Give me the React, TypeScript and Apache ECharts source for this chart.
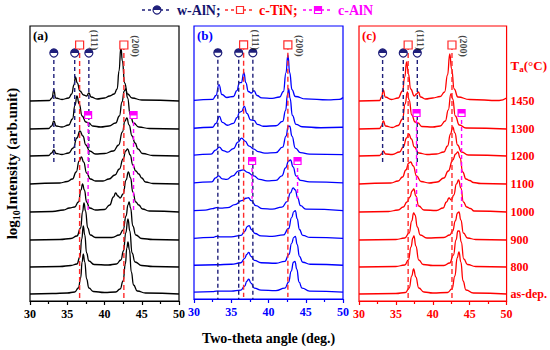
import React, { useEffect, useRef } from "react";
import * as echarts from "echarts";

const FONT = "'Liberation Serif', 'Times New Roman', serif";
const PANEL_COLORS = ["#000000", "#0000ff", "#ff0000"];
const PANEL_TAGS = ["(a)", "(b)", "(c)"];
const TEMPS = ["as-dep.", "800", "900", "1000", "1100", "1200", "1300", "1450"];
// baseline offset of each stacked pattern (px above the x axis)
const BASELINES = [7, 34, 61, 89, 117, 145, 172, 200];
const X_MIN = 30;
const X_MAX = 50;
const X_STEP = 5;
const Y_MAX = 275;

// [2theta, intensity above baseline]
const CURVES_A = [
  [[30,0],[33,0.5],[35,1],[36.0,2],[36.5,6],[36.8,16],[37.0,32],[37.15,40],[37.35,32],[37.6,15],[37.9,6],[38.5,2.5],[40,1.5],[41.5,2],[42.1,5],[42.5,13],[42.8,30],[43.0,46],[43.15,52],[43.35,44],[43.6,22],[43.9,9],[44.4,3],[45.5,1],[50,0]],
  [[30,0],[34,0.5],[35.5,1.5],[36.3,3],[36.7,10],[36.95,28],[37.15,41],[37.35,32],[37.6,14],[37.9,6],[38.6,2.5],[40.5,2],[41.6,3],[42.2,7],[42.55,16],[42.85,34],[43.15,48],[43.4,36],[43.7,14],[44.1,5],[45,1.5],[46.5,0.5],[50,0]],
  [[30,0],[34,0.5],[35.5,1.5],[36.3,4],[36.8,12],[37.05,28],[37.25,37],[37.45,29],[37.75,12],[38.1,5],[38.8,2.5],[41,2.5],[42.0,5],[42.5,10],[42.9,24],[43.15,35],[43.3,38],[43.5,32],[43.8,14],[44.2,5],[45,1.5],[46.5,0.5],[50,0]],
  [[30,0],[33,0.5],[34.5,2],[35.3,4],[36.0,5],[36.5,10],[36.85,22],[37.05,28],[37.3,22],[37.6,10],[38.0,4],[38.8,2],[40,2.5],[40.7,7],[41.2,15],[41.5,19],[41.8,16],[42.1,14],[42.5,18],[42.9,32],[43.2,40],[43.5,34],[43.8,20],[44.2,10],[44.6,7],[45.1,3],[46,1],[50,0]],
  [[30,0],[34,1],[35.0,2.5],[35.7,5],[36.2,12],[36.6,23],[36.9,27],[37.2,22],[37.6,11],[38.1,5],[38.8,3],[39.8,3],[40.6,5],[41.4,9],[42.0,15],[42.5,25],[42.85,33],[43.1,35],[43.45,29],[43.8,19],[44.2,13],[44.6,10],[45.0,6],[45.5,2],[46.5,0.5],[50,0]],
  [[30,0],[32.5,0.5],[32.9,3],[33.2,6],[33.5,2.5],[34.3,1.5],[35.2,3],[35.8,8],[36.3,18],[36.7,25],[37.1,20],[37.5,11],[38.0,5],[38.8,2],[40,2.5],[41.2,5],[41.9,11],[42.4,24],[42.75,35],[43.0,38],[43.3,31],[43.7,20],[44.1,13],[44.5,7],[45.1,2.5],[46.5,0.5],[50,0]],
  [[30,0],[32.5,0.5],[32.9,3],[33.2,8],[33.5,3],[34.3,2],[35.2,4],[35.7,10],[36.05,24],[36.3,33],[36.6,25],[37.0,13],[37.5,7],[37.9,6],[38.4,3],[39.5,2],[40.6,3],[41.5,6],[42.0,13],[42.35,27],[42.65,38],[42.85,40],[43.1,31],[43.45,14],[43.9,6],[44.6,2],[46,0.5],[50,0]],
  [[30,0],[32.6,0.5],[32.95,3],[33.2,11],[33.45,3],[34.3,1.5],[35.2,3],[35.6,7],[35.9,16],[36.1,24],[36.35,18],[36.7,10],[37.2,6],[37.6,5],[37.9,8],[38.2,4],[39.0,2],[40,3],[40.7,5],[41.3,7],[41.7,12],[41.95,30],[42.2,54],[42.4,40],[42.7,18],[43.1,7],[43.7,3],[45,1],[50,0]]
];

const CURVES_B = [
  [[30,0],[32.5,0.5],[33,1],[35,1],[36.3,2],[36.8,6],[37.1,11],[37.35,13],[37.65,9],[38.1,4],[39,2],[41,1.5],[42.2,4],[42.7,10],[43.05,21],[43.35,30],[43.55,31],[43.8,23],[44.1,10],[44.5,4],[45.5,1],[50,0]],
  [[30,0],[33,0.5],[35,1],[36.3,2.5],[36.8,7],[37.1,11],[37.35,13],[37.65,9],[38.1,5],[39,2.5],[41,2],[42.2,4],[42.75,11],[43.1,22],[43.4,28],[43.6,29],[43.85,21],[44.15,9],[44.6,3],[45.6,1],[50,0]],
  [[30,0],[32.5,1],[33.0,2],[33.6,1.5],[35,1.5],[36.3,3],[36.8,7],[37.15,12],[37.4,13],[37.7,9],[38.2,5],[39,2.5],[40.5,2],[42,3.5],[42.7,10],[43.1,21],[43.4,27],[43.6,28],[43.85,20],[44.15,9],[44.6,3],[45.6,1],[50,0]],
  [[30,0],[31.5,0.5],[32.5,2],[33.0,3],[33.6,2.5],[34.5,3],[35.5,6],[36.4,10],[37.0,12.5],[37.3,13],[37.7,10],[38.3,5],[39.2,2],[40.5,1.5],[41.8,3.5],[42.5,9],[42.95,18],[43.3,23],[43.6,21],[43.9,13],[44.3,5],[45,1.5],[50,0]],
  [[30,0],[32.4,1],[32.9,5],[33.3,7],[33.8,4],[34.4,3.5],[35.2,7],[36.0,12],[36.6,13],[37.2,10.5],[38.0,7],[38.8,3.5],[39.8,2],[41,2.5],[41.8,7],[42.3,15],[42.7,22],[42.95,23],[43.3,16],[43.7,7],[44.3,2.5],[45.5,1],[50,0]],
  [[30,0],[32.3,1],[32.9,5],[33.4,8],[33.9,4.5],[34.5,3],[35.3,6.5],[35.9,13],[36.4,17],[36.85,14],[37.4,9],[38.05,6],[38.6,3.5],[39.5,2],[41,2.5],[41.9,8],[42.35,19],[42.65,29],[42.85,29],[43.15,19],[43.6,7],[44.3,2.5],[45.5,1],[50,0.5]],
  [[30,0],[32.5,1],[32.95,5],[33.4,12],[33.8,6],[34.5,3],[35.3,5],[35.8,11],[36.1,16],[36.4,17],[36.75,22],[37.1,15],[37.6,8.5],[38.05,8],[38.5,4],[39.3,2],[41,2.5],[41.9,7],[42.3,18],[42.55,34],[42.7,40],[42.9,30],[43.2,13],[43.7,4],[44.5,1.5],[47,0.5],[50,1]],
  [[30,0],[32.5,1],[32.95,5],[33.35,16],[33.75,6],[34.4,3],[35.3,4],[35.75,10],[36.1,18],[36.35,18],[36.7,28],[36.95,18],[37.3,9],[37.7,7.5],[38.05,10],[38.45,5],[39.1,2.5],[40.5,2],[41.5,3.5],[42.0,9],[42.35,28],[42.6,46],[42.85,28],[43.15,11],[43.6,4],[45,1.5],[48,0.5],[49.5,1],[50,3]]
];

const CURVES_C = [
  [[30,0],[35,0.5],[36.3,1.5],[36.8,6],[37.15,18],[37.4,25],[37.7,17],[38.1,6],[38.8,2],[40,1],[42,1.5],[42.6,5],[43.0,18],[43.3,36],[43.55,42],[43.8,32],[44.1,13],[44.5,4],[45.5,1],[50,0]],
  [[30,0],[35,0.5],[36.2,2],[36.7,7],[37.05,20],[37.3,29],[37.45,31],[37.7,21],[38.1,7],[38.7,2.5],[40,1.5],[41.5,1.5],[42.3,4],[42.8,12],[43.15,27],[43.4,36],[43.6,36],[43.85,25],[44.2,8],[44.7,2.5],[45.8,0.5],[50,0]],
  [[30,0],[35,0.5],[36.2,2],[36.8,7],[37.15,19],[37.4,27],[37.6,25],[37.9,13],[38.3,5],[39.2,2],[41.5,2.5],[42.3,5],[42.7,9],[43.05,19],[43.35,27],[43.55,28],[43.8,20],[44.15,7],[44.7,2],[45.8,0.5],[50,0]],
  [[30,0],[34,0.5],[35.3,2],[36.0,5],[36.5,10],[36.9,15],[37.2,21],[37.43,23],[37.7,16],[38.1,6],[38.8,2],[40.5,1.5],[41.4,4],[41.85,10],[42.2,14],[42.5,12],[42.85,17],[43.2,28],[43.5,32],[43.8,24],[44.15,10],[44.6,5],[45.1,3.5],[45.6,1],[50,0]],
  [[30,0],[34.3,1],[35.3,3],[35.9,7],[36.35,14],[36.75,21],[37.0,22],[37.35,18],[37.8,8],[38.4,2.5],[39.5,1],[40.6,2],[41.5,6],[42.1,13],[42.7,24],[43.1,30],[43.4,32],[43.7,26],[44.05,12],[44.5,5],[45.0,3.5],[45.5,1.5],[46.5,0.5],[50,0]],
  [[30,0],[32.8,0.5],[33.05,2],[33.3,5],[33.6,2],[34.5,1.5],[35.5,4],[36.0,9],[36.45,18],[36.75,22],[37.1,17],[37.5,9],[38.1,3],[39.2,1.5],[40.5,2],[41.5,4],[42.0,10],[42.4,22],[42.7,29],[43.0,23],[43.35,11],[43.9,4],[44.8,1],[50,0]],
  [[30,0],[32.8,0.5],[33.05,3],[33.3,8],[33.6,3],[34.5,1.5],[35.3,3.5],[35.9,10],[36.25,25],[36.55,37],[36.8,29],[37.15,14],[37.6,7],[38.0,6],[38.5,2.5],[40,2],[41,3],[41.7,8],[42.1,19],[42.45,35],[42.7,30],[43.05,13],[43.6,4],[44.5,1],[50,0]],
  [[30,0],[32.8,0.5],[33.05,4],[33.3,11],[33.55,4],[34.4,1.5],[35.3,3],[35.9,10],[36.2,24],[36.45,39],[36.7,27],[37.0,12],[37.5,5],[37.8,7],[38.05,9],[38.35,4],[39,2],[40,3],[41,4.5],[41.6,9],[42.0,26],[42.3,47],[42.55,32],[42.9,12],[43.4,4],[45,1.5],[49,0.5],[50,3]]
];

const CURVES = [CURVES_A, CURVES_B, CURVES_C];

// reference peak positions
const W_ALN = [33.2, 36.0, 37.9];
const C_TIN = [36.66, 42.6];
const C_ALN = [37.8, 43.9];
// vertical extents of the reference lines per panel (same units as baselines)
const W_ALN_TOP = [248, 248, 248];
const W_ALN_BOTTOM = [138, 0, 138];
const C_TIN_TOP = [256, 256, 256];
const C_TIN_BOTTOM = [2, 2, 2];
const C_ALN_TOP = [186, 139, 188];
const C_ALN_BOTTOM = [91, 101, 94];
// Miller index labels
const HKL = ["(111)", "(200)"];
const HKL_X = [[38.7, 44.1], [38.3, 44.2], [38.3, 44.1]];
const HKL_Y = [261, 255];

const NAVY = "#1f1f7a";
const RED = "#ff2a2a";
const MAGENTA = "#ff00ff";

const GRID_LEFT = [30, 194, 359];

function buildOption() {
  const series: any[] = [];
  CURVES.forEach((panel, p) => {
    panel.forEach((pts, i) => {
      series.push({
        type: "line",
        xAxisIndex: p,
        yAxisIndex: p,
        data: pts.map(([x, h]) => [x, h + BASELINES[i]]),
        showSymbol: false,
        smooth: 0.5,
        smoothMonotone: "x",
        lineStyle: { color: PANEL_COLORS[p], width: 1.3 },
        silent: true,
        z: 2,
      });
    });
    const refLine = (x: number, top: number, bottom: number, color: string, dash: number[]) => ({
      type: "line",
      xAxisIndex: p,
      yAxisIndex: p,
      data: [[x, top], [x, bottom]],
      showSymbol: false,
      symbol: "none",
      lineStyle: { color, width: 1.4, type: dash },
      silent: true,
      z: 3,
    });
    W_ALN.forEach((x) => series.push(refLine(x, W_ALN_TOP[p], W_ALN_BOTTOM[p], NAVY, [4, 3])));
    C_TIN.forEach((x) => series.push(refLine(x, C_TIN_TOP[p], C_TIN_BOTTOM[p], RED, [5, 3])));
    C_ALN.forEach((x) => series.push(refLine(x, C_ALN_TOP[p], C_ALN_BOTTOM[p], MAGENTA, [4, 3])));
    // markers
    series.push({
      type: "scatter", xAxisIndex: p, yAxisIndex: p, silent: true, z: 4,
      data: W_ALN.map((x) => [x, W_ALN_TOP[p]]),
      symbol: "circle", symbolSize: 8,
      itemStyle: { color: "#fff", borderColor: NAVY, borderWidth: 1.2, opacity: 1 },
    });
    series.push({
      type: "scatter", xAxisIndex: p, yAxisIndex: p, silent: true, z: 5,
      data: W_ALN.map((x) => [x, W_ALN_TOP[p]]),
      symbol: "path://M0,10A10,10 0 0 1 20,10Z", symbolSize: [8, 4], symbolOffset: [0, -2],
      itemStyle: { color: NAVY, opacity: 1 },
    });
    series.push({
      type: "scatter", xAxisIndex: p, yAxisIndex: p, silent: true, z: 4,
      data: C_TIN.map((x) => [x, C_TIN_TOP[p]]),
      symbol: "rect", symbolSize: 8,
      itemStyle: { color: "#fff", borderColor: RED, borderWidth: 1.2, opacity: 1 },
    });
    series.push({
      type: "scatter", xAxisIndex: p, yAxisIndex: p, silent: true, z: 4,
      data: C_ALN.map((x) => [x, C_ALN_TOP[p]]),
      symbol: "rect", symbolSize: 7,
      itemStyle: { color: "#fff", borderColor: MAGENTA, borderWidth: 1.2, opacity: 1 },
    });
    series.push({
      type: "scatter", xAxisIndex: p, yAxisIndex: p, silent: true, z: 5,
      data: C_ALN.map((x) => [x, C_ALN_TOP[p]]),
      symbol: "rect", symbolSize: [7, 4], symbolOffset: [0, -1.5],
      itemStyle: { color: MAGENTA, opacity: 1 },
    });
    series.push({
      type: "scatter", xAxisIndex: p, yAxisIndex: p, silent: true, z: 6,
      data: HKL.map((name, k) => ({ name, value: [HKL_X[p][k], HKL_Y[k]] })),
      symbolSize: 1,
      itemStyle: { color: "rgba(0,0,0,0)" },
      label: {
        show: true, position: "inside", formatter: "{b}", rotate: -90,
        color: "#111", fontFamily: FONT, fontWeight: "bold", fontSize: 10,
      },
    });
  });

  const xAxis = PANEL_COLORS.map((c, p) => ({
    type: "value",
    gridIndex: p,
    min: X_MIN,
    max: X_MAX,
    interval: X_STEP,
    axisLine: { show: true, lineStyle: { color: c, width: 1.2 } },
    axisTick: { show: true, inside: false, length: 4, lineStyle: { color: c, width: 1.2 } },
    minorTick: { show: true, splitNumber: 2, length: 3, lineStyle: { color: c, width: 1.2 } },
    splitLine: { show: false },
    minorSplitLine: { show: false },
    axisLabel: { color: c, fontFamily: FONT, fontWeight: "bold", fontSize: 12, margin: 7 },
    ...(p === 1
      ? {
          name: "Two-theta angle (deg.)",
          nameLocation: "middle",
          nameGap: 32,
          nameTextStyle: { color: "#000", fontFamily: FONT, fontWeight: "bold", fontSize: 14 },
        }
      : {}),
  }));

  const yAxis: any[] = PANEL_COLORS.map((c, p) => ({
    type: "value",
    gridIndex: p,
    min: 0,
    max: Y_MAX,
    axisLine: { show: false },
    axisTick: { show: false },
    axisLabel: { show: false },
    splitLine: { show: false },
    ...(p === 0
      ? {
          name: "log{s|10}Intensity (arb.unit)",
          nameLocation: "middle",
          nameGap: 9,
          nameTextStyle: {
            color: "#000", fontFamily: FONT, fontWeight: "bold", fontSize: 15,
            rich: { s: { fontFamily: FONT, fontWeight: "bold", fontSize: 10, verticalAlign: "bottom", padding: [8, 0, 0, 0] } },
          },
        }
      : {}),
  }));
  const rightValues = [...BASELINES, 236];
  yAxis.push({
    type: "value",
    gridIndex: 2,
    position: "right",
    min: 0,
    max: Y_MAX,
    axisLine: { show: false },
    axisTick: { show: false },
    splitLine: { show: false },
    axisLabel: {
      show: true,
      customValues: rightValues,
      margin: 4,
      color: "#ff0000",
      fontFamily: FONT,
      fontWeight: "bold",
      fontSize: 12,
      formatter: (v: number) => {
        const k = rightValues.indexOf(v);
        if (k >= 0 && k < TEMPS.length) return TEMPS[k];
        return "{t|T}{s|a}{t|(°C)}";
      },
      rich: {
        t: { color: "#ff0000", fontFamily: FONT, fontWeight: "bold", fontSize: 13 },
        s: { color: "#ff0000", fontFamily: FONT, fontWeight: "bold", fontSize: 9, verticalAlign: "bottom", padding: [7, 0, 0, 0] },
      },
    },
  });

  const legendY = 10;
  const graphic: any[] = [
    { type: "line", shape: { x1: 142, y1: legendY, x2: 172, y2: legendY }, style: { stroke: NAVY, lineWidth: 1.4, lineDash: [3, 3] } },
    { type: "circle", shape: { cx: 157, cy: legendY, r: 4 }, style: { fill: "#fff", stroke: NAVY, lineWidth: 1.2 }, z: 10 },
    { type: "sector", shape: { cx: 157, cy: legendY, r: 4, startAngle: Math.PI, endAngle: 2 * Math.PI }, style: { fill: NAVY }, z: 11 },
    { type: "text", x: 177, y: legendY, style: { text: "w-AlN;", fill: "#14146e", font: `bold 14px ${FONT}`, verticalAlign: "middle" } },
    { type: "line", shape: { x1: 225, y1: legendY, x2: 255, y2: legendY }, style: { stroke: RED, lineWidth: 1.4, lineDash: [3, 3] } },
    { type: "rect", shape: { x: 236.5, y: legendY - 3.5, width: 7, height: 7 }, style: { fill: "#fff", stroke: RED, lineWidth: 1.2 }, z: 10 },
    { type: "text", x: 259, y: legendY, style: { text: "c-TiN;", fill: "#ff0000", font: `bold 14px ${FONT}`, verticalAlign: "middle" } },
    { type: "line", shape: { x1: 303, y1: legendY, x2: 333, y2: legendY }, style: { stroke: MAGENTA, lineWidth: 1.4, lineDash: [3, 3] } },
    { type: "rect", shape: { x: 314.5, y: legendY - 3.5, width: 7, height: 7 }, style: { fill: "#fff", stroke: MAGENTA, lineWidth: 1.2 }, z: 10 },
    { type: "rect", shape: { x: 314.5, y: legendY - 3.5, width: 7, height: 4.5 }, style: { fill: MAGENTA }, z: 11 },
    { type: "text", x: 338, y: legendY, style: { text: "c-AlN", fill: MAGENTA, font: `bold 14px ${FONT}`, verticalAlign: "middle" } },
  ];
  PANEL_TAGS.forEach((t, p) => {
    graphic.push({
      type: "text", x: GRID_LEFT[p] + 3, y: 29,
      style: { text: t, fill: PANEL_COLORS[p], font: `bold 13px ${FONT}` },
    });
  });

  return {
    animation: false,
    backgroundColor: "#ffffff",
    grid: GRID_LEFT.map((left, p) => ({
      left, top: 26, width: 149, height: 275,
      show: true, borderColor: PANEL_COLORS[p], borderWidth: 1.2, backgroundColor: "transparent",
    })),
    xAxis,
    yAxis,
    series,
    graphic,
  };
}

export default function App() {
  const ref = useRef<HTMLDivElement>(null);
  useEffect(() => {
    if (!ref.current) return;
    const chart = echarts.init(ref.current, undefined, { renderer: "svg" });
    chart.setOption(buildOption() as any);
    return () => chart.dispose();
  }, []);
  return (
    <div
      ref={ref}
      style={{ position: "fixed", left: 0, top: 0, width: 550, height: 350, background: "#fff" }}
    />
  );
}
